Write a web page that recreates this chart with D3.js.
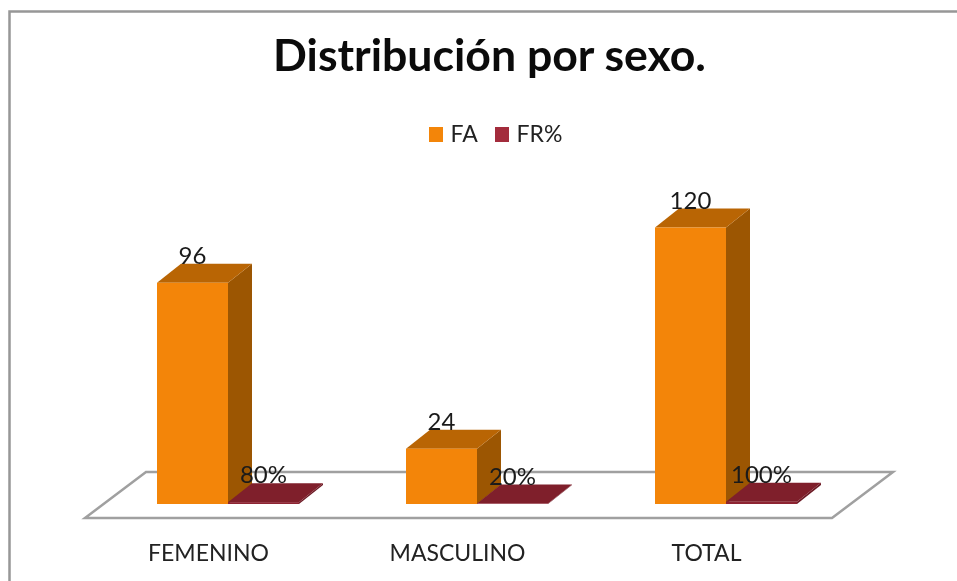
<!DOCTYPE html>
<html>
<head>
<meta charset="utf-8">
<script src="https://d3js.org/d3.v7.min.js"></script>
<style>
    html, body { margin: 0; padding: 0; background: #fff; }
    /* the source is a slightly soft screenshot */
    svg { display: block; font-family: Lato, "Open Sans", sans-serif; filter: blur(0.4px); }
</style>
</head>
<body>
<div id="chart"></div>
<script>
const categories = ["FEMENINO", "MASCULINO", "TOTAL"];
const series = ["FA", "FR%"];
const fa_values = [96, 24, 120];
const fr_values = [0.8, 0.2, 1];
const fr_labels = ["80%", "20%", "100%"];
const fa_labels = ["96", "24", "120"];

const WIDTH = 957;
const HEIGHT = 581;
const DEPTH_X = 24;
const DEPTH_Y = 19;
const FLOOR_FRONT = 518;
const FLOOR_BACK = 472;
const FLOOR_SKEW = 61;
const BAR_INSET = 72;
const BAR_WIDTH = 71;

const colors = {
    FA: { front: "#f38509", top: "#b96504", side: "#9c5602", legend: "#f38509" },
    FR: { front: "#8d2432", top: "#7f1f2b", side: "#6c1a25", legend: "#a32c3c" }
};

let svg = d3.select("#chart").append("svg")
    .attr("width", WIDTH)
    .attr("height", HEIGHT)
    .attr("viewBox", "0 0 " + WIDTH + " " + HEIGHT);

let x = d3.scaleBand().domain(categories).range([85, 832]);
let y = d3.scaleLinear().domain([0, 120]).range([504, 227.5]);
let xSeries = d3.scaleBand().domain(series).range([0, BAR_WIDTH * 2]);

// chart area border, only left and top show in the crop
svg.append("path")
    .attr("d", "M9.5," + HEIGHT + "V11.5H" + WIDTH)
    .attr("fill", "none")
    .attr("stroke", "#979797")
    .attr("stroke-width", 2.5);

// title
svg.append("text")
    .attr("x", 489.5)
    .attr("y", 71)
    .attr("text-anchor", "middle")
    .attr("font-size", 44.6)
    .attr("font-weight", 700)
    .attr("fill", "#0b0b0b")
    .text("Distribución por sexo.");

// legend
let legend_x = { "FA": 429, "FR%": 495 };
series.forEach((s) => {
    let c = s === "FA" ? colors.FA : colors.FR;
    svg.append("rect")
        .attr("x", legend_x[s])
        .attr("y", 127)
        .attr("width", 14)
        .attr("height", 15)
        .attr("fill", c.legend);
    svg.append("text")
        .attr("x", legend_x[s] + 21.5)
        .attr("y", 142)
        .attr("font-size", 23)
        .attr("fill", "#222")
        .text(s);
});

// floor
svg.append("path")
    .attr("d", d3.line()([
        [x.range()[0], FLOOR_FRONT],
        [x.range()[1], FLOOR_FRONT],
        [x.range()[1] + FLOOR_SKEW, FLOOR_BACK],
        [x.range()[0] + FLOOR_SKEW, FLOOR_BACK]
    ]) + "Z")
    .attr("fill", "#fff")
    .attr("stroke", "#a0a0a0")
    .attr("stroke-width", 2.5);

function drawBar(x0, value, c) {
    let x1 = x0 + BAR_WIDTH;
    let top = y(value);
    let bottom = y(0);
    let g = svg.append("g");
    g.append("path")
        .attr("d", d3.line()([[x1, top], [x1 + DEPTH_X, top - DEPTH_Y], [x1 + DEPTH_X, bottom - DEPTH_Y], [x1, bottom]]) + "Z")
        .attr("fill", c.side);
    g.append("path")
        .attr("d", d3.line()([[x0, top], [x1, top], [x1 + DEPTH_X, top - DEPTH_Y], [x0 + DEPTH_X, top - DEPTH_Y]]) + "Z")
        .attr("fill", c.top);
    g.append("rect")
        .attr("x", x0)
        .attr("y", top)
        .attr("width", BAR_WIDTH)
        .attr("height", bottom - top)
        .attr("fill", c.front);
}

function drawLabel(cx, value, label) {
    svg.append("text")
        .attr("x", cx)
        .attr("y", y(value) - 19)
        .attr("text-anchor", "middle")
        .attr("font-size", 24)
        .attr("fill", "#1a1a1a")
        .text(label);
}

// bars, then labels on top of them
categories.forEach((cat, i) => {
    let x0 = x(cat) + BAR_INSET;
    drawBar(x0 + xSeries("FA"), fa_values[i], colors.FA);
    drawBar(x0 + xSeries("FR%"), fr_values[i], colors.FR);
});
categories.forEach((cat, i) => {
    let x0 = x(cat) + BAR_INSET;
    drawLabel(x0 + xSeries("FA") + BAR_WIDTH / 2, fa_values[i], fa_labels[i]);
    drawLabel(x0 + xSeries("FR%") + BAR_WIDTH / 2, fr_values[i], fr_labels[i]);
});

// category labels
svg.selectAll(".cat")
    .data(categories)
    .enter()
    .append("text")
    .attr("class", "cat")
    .attr("x", (d) => x(d) + x.bandwidth() / 2 - 1)
    .attr("y", 561)
    .attr("text-anchor", "middle")
    .attr("font-size", 23)
    .attr("fill", "#222")
    .text((d) => d);
</script>
</body>
</html>
